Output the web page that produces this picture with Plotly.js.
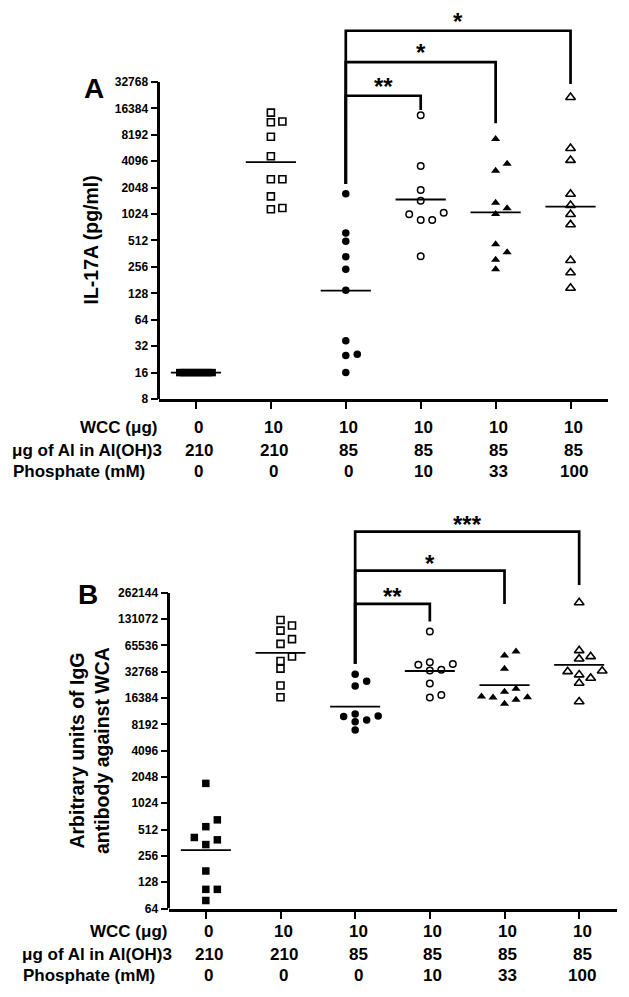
<!DOCTYPE html>
<html><head><meta charset="utf-8">
<script src="https://cdn.plot.ly/plotly-3.0.1.min.js"></script>
<style>html,body{margin:0;padding:0;background:#fff}#chart{width:629px;height:997px}</style>
</head><body><div id="chart"></div>
<script>
// ---------------- data ----------------
const wcc = [0, 10, 10, 10, 10, 10];
const alum = [210, 210, 85, 85, 85, 85];
const phosphate = [0, 0, 0, 10, 33, 100];
const rowLabels = ['WCC (\u03bcg)', '\u03bcg of Al in Al(OH)3', 'Phosphate (mM)'];

// Panel A: IL-17A (pg/ml)
const il17_g0 = [16, 16, 16, 16, 16, 16, 16, 16, 16, 16];
const il17_g1 = [1160, 1200, 1630, 2550, 2550, 4670, 7800, 11400, 11600, 14650];
const il17_g2 = [16, 25, 25.9, 37, 139, 241, 335, 501, 622, 1750];
const il17_g3 = [338, 878, 878, 1017, 1060, 1450, 1920, 3610, 13700];
const il17_g4 = [241, 309, 375, 464, 1024, 1190, 1380, 3200, 3840, 7340];
const il17_g5 = [147, 220, 304, 776, 1017, 1290, 1730, 4200, 5750, 21900];

// Panel B: IgG against WCA (arbitrary units)
const igg_g0 = [79, 106, 106, 172, 345, 391, 416, 553, 662, 1730];
const igg_g1 = [16750, 22800, 35600, 43600, 49000, 68400, 77500, 97000, 111000, 128500];
const igg_g2 = [7080, 8780, 9200, 10100, 10200, 10800, 22500, 25500, 30800];
const igg_g3 = [16600, 17800, 24000, 33900, 34600, 39500, 40300, 42000, 94700];
const igg_g4 = [14100, 15700, 16600, 16700, 17100, 19300, 21000, 35400, 50300, 55800];
const igg_g5 = [14900, 24300, 27700, 30300, 33000, 33500, 46000, 49000, 57400, 203000];

const ticksA = [8, 16, 32, 64, 128, 256, 512, 1024, 2048, 4096, 8192, 16384, 32768];
const ticksB = [64, 128, 256, 512, 1024, 2048, 4096, 8192, 16384, 32768, 65536, 131072, 262144];

// significance brackets (group 2 vs groups 3,4,5)
const sigFrom = 2;
const sigTo = [3, 4, 5];
const sigLabelsA = ['**', '*', '*'];
const sigTopA = [22850, 55100, 125700];
const sigLeftBaseA = 2257;
const sigRightBaseA = [15700, 11100, 31000];
const sigLabelsB = ['**', '*', '***'];
const sigTopB = [196000, 472000, 1320000];
const sigLeftBaseB = 40600;
const sigRightBaseB = [123000, 196000, 322700];

// ---------------- layout constants ----------------
const W = 629, H = 997;
const FONT = 'Liberation Sans, Arial, Helvetica, sans-serif';
const cats = [0, 1, 2, 3, 4, 5];

const panelA = {x: [158.5, 608], yPx: [399, 13.3], yr: [3, 17.6], ax: '', rows: [427.7, 450, 471.7], starShift: -6};
const panelB = {x: [168.5, 616.5], yPx: [908.5, 516.6], yr: [6, 20.9], ax: '2', rows: [931.7, 954.3, 975.7], starShift: -8};

const symbols = [
  {symbol: 'square', size: 7.5, lw: 0},
  {symbol: 'square-open', size: 7, lw: 1.6},
  {symbol: 'circle', size: 7.5, lw: 0},
  {symbol: 'circle-open', size: 6.5, lw: 1.5},
  {symbol: 'triangle-up', size: 8, lw: 0},
  {symbol: 'triangle-up-open', size: 8.5, lw: 1.6}
];

function swarm(vals, pxPerLog) {
  const step = 11.5, thr = 7.5, compact = 3.6;
  const counts = {};
  vals.forEach(v => counts[v] = (counts[v] || 0) + 1);
  const seen = {};
  const placed = [];
  return vals.map(v => {
    const y = Math.log2(v) * pxPerLog;
    if (counts[v] >= 5) {
      const k = seen[v] = (seen[v] === undefined ? 0 : seen[v] + 1);
      const ox = (k - (counts[v] - 1) / 2) * compact;
      placed.push({x: ox, y});
      return ox;
    }
    const order = [0, 1, -1, 2, -2, 3, -3];
    for (const c of order) {
      const ox = c * step;
      if (placed.every(p => Math.hypot(p.x - ox, p.y - y) >= thr)) {
        placed.push({x: ox, y});
        return ox;
      }
    }
    placed.push({x: 0, y});
    return 0;
  });
}

const traces = [];
const shapes = [];
const annotations = [];
const layout = {
  width: W, height: H, margin: {l: 0, r: 0, t: 0, b: 0},
  paper_bgcolor: '#fff', plot_bgcolor: 'rgba(0,0,0,0)',
  showlegend: false, font: {family: FONT, color: '#000'},
  shapes, annotations
};

function boldFont(size) { return {family: FONT, size: size, weight: 'bold', color: '#000'}; }

function buildPanel(p, groups, ticks, sigLabels, sigTop, sigLeftBase, sigRightBase, title, letter) {
  const xa = 'x' + p.ax, ya = 'y' + p.ax;
  const pxPerCat = (p.x[1] - p.x[0]) / 6;
  const pxPerLog = (p.yPx[0] - p.yPx[1]) / (p.yr[1] - p.yr[0]);
  layout['xaxis' + p.ax] = {
    domain: [p.x[0] / W, p.x[1] / W], range: [-0.5, 5.5], anchor: ya,
    tickvals: cats, showticklabels: false,
    ticks: 'outside', ticklen: 7, tickwidth: 2, tickcolor: '#000',
    showline: true, linewidth: 3, linecolor: '#000',
    showgrid: false, zeroline: false, fixedrange: true
  };
  layout['yaxis' + p.ax] = {
    domain: [1 - p.yPx[0] / H, 1 - p.yPx[1] / H], range: p.yr, anchor: xa,
    tickvals: ticks.map(t => Math.log2(t)), ticktext: ticks.map(String),
    ticks: 'outside', ticklen: 7, tickwidth: 2, tickcolor: '#000',
    showline: false, showgrid: false, zeroline: false, fixedrange: true,
    tickfont: boldFont(12)
  };
  // y axis line limited to the tick range
  shapes.push({type: 'line', xref: xa + ' domain', yref: ya, x0: 0, x1: 0,
    y0: Math.log2(ticks[0]), y1: Math.log2(ticks[ticks.length - 1]),
    line: {color: '#000', width: 3}});

  groups.forEach((vals, i) => {
    const offs = swarm(vals, pxPerLog);
    const s = symbols[i];
    traces.push({
      type: 'scatter', mode: 'markers', xaxis: xa, yaxis: ya, hoverinfo: 'skip',
      x: vals.map((v, k) => i + offs[k] / pxPerCat), y: vals.map(v => Math.log2(v)),
      marker: {symbol: s.symbol, size: s.size, color: '#000', line: {color: '#000', width: s.lw}},
      cliponaxis: false
    });
    const gm = vals.reduce((a, v) => a + Math.log2(v), 0) / vals.length;
    traces.push({
      type: 'scatter', mode: 'lines', xaxis: xa, yaxis: ya, hoverinfo: 'skip',
      x: [i - 0.335, i + 0.335], y: [gm, gm], line: {color: '#000', width: 1.8}
    });
  });

  sigTo.forEach((t, k) => {
    const top = Math.log2(sigTop[k]);
    traces.push({
      type: 'scatter', mode: 'lines', xaxis: xa, yaxis: ya, hoverinfo: 'skip',
      x: [sigFrom, sigFrom, t, t],
      y: [Math.log2(sigLeftBase), top, top, Math.log2(sigRightBase[k])],
      line: {color: '#000', width: 2.7}
    });
    annotations.push({
      xref: xa, yref: ya, x: (sigFrom + t) / 2, y: top, xanchor: 'center', yanchor: 'bottom',
      yshift: p.starShift, text: sigLabels[k], showarrow: false, font: boldFont(24)
    });
  });

  // condition table under the x axis
  const rowVals = [wcc, alum, phosphate];
  const rl = [
    {x: p.x[0] + 0.5, anchor: 'right'},
    {x: p.x[0] - 148.5, anchor: 'left'},
    {x: p.x[0] - 148, anchor: 'left'}
  ];
  rowLabels.forEach((t, k) => {
    annotations.push({
      xref: 'paper', yref: 'paper', x: rl[k].x / W, xanchor: rl[k].anchor,
      y: 1 - p.rows[k] / H, yanchor: 'middle', text: t, showarrow: false,
      font: boldFont(17)
    });
    cats.forEach(c => {
      annotations.push({
        xref: xa, yref: 'paper', x: c, xanchor: 'center', xshift: 3,
        y: 1 - p.rows[k] / H, yanchor: 'middle', text: String(rowVals[k][c]),
        showarrow: false, font: boldFont(17)
      });
    });
  });

  annotations.push(title);
  annotations.push(letter);
}

buildPanel(panelA, [il17_g0, il17_g1, il17_g2, il17_g3, il17_g4, il17_g5], ticksA,
  sigLabelsA, sigTopA, sigLeftBaseA, sigRightBaseA,
  {xref: 'paper', yref: 'paper', x: 91 / W, y: 1 - 240.5 / H, xanchor: 'center', yanchor: 'middle',
   textangle: -90, showarrow: false, text: 'IL-17A (pg/ml)', font: boldFont(19.5)},
  {xref: 'paper', yref: 'paper', x: 93.5 / W, y: 1 - 88.5 / H, xanchor: 'center', yanchor: 'middle',
   showarrow: false, text: 'A', font: boldFont(28)});

buildPanel(panelB, [igg_g0, igg_g1, igg_g2, igg_g3, igg_g4, igg_g5], ticksB,
  sigLabelsB, sigTopB, sigLeftBaseB, sigRightBaseB,
  {xref: 'paper', yref: 'paper', x: 89 / W, y: 1 - 751 / H, xanchor: 'center', yanchor: 'middle',
   textangle: -90, showarrow: false, text: 'Arbitrary units of IgG<br>antibody against WCA',
   font: boldFont(19.5)},
  {xref: 'paper', yref: 'paper', x: 88 / W, y: 1 - 594 / H, xanchor: 'center', yanchor: 'middle',
   showarrow: false, text: 'B', font: boldFont(28)});

Plotly.newPlot('chart', traces, layout, {staticPlot: true, displayModeBar: false});
</script>
</body></html>
